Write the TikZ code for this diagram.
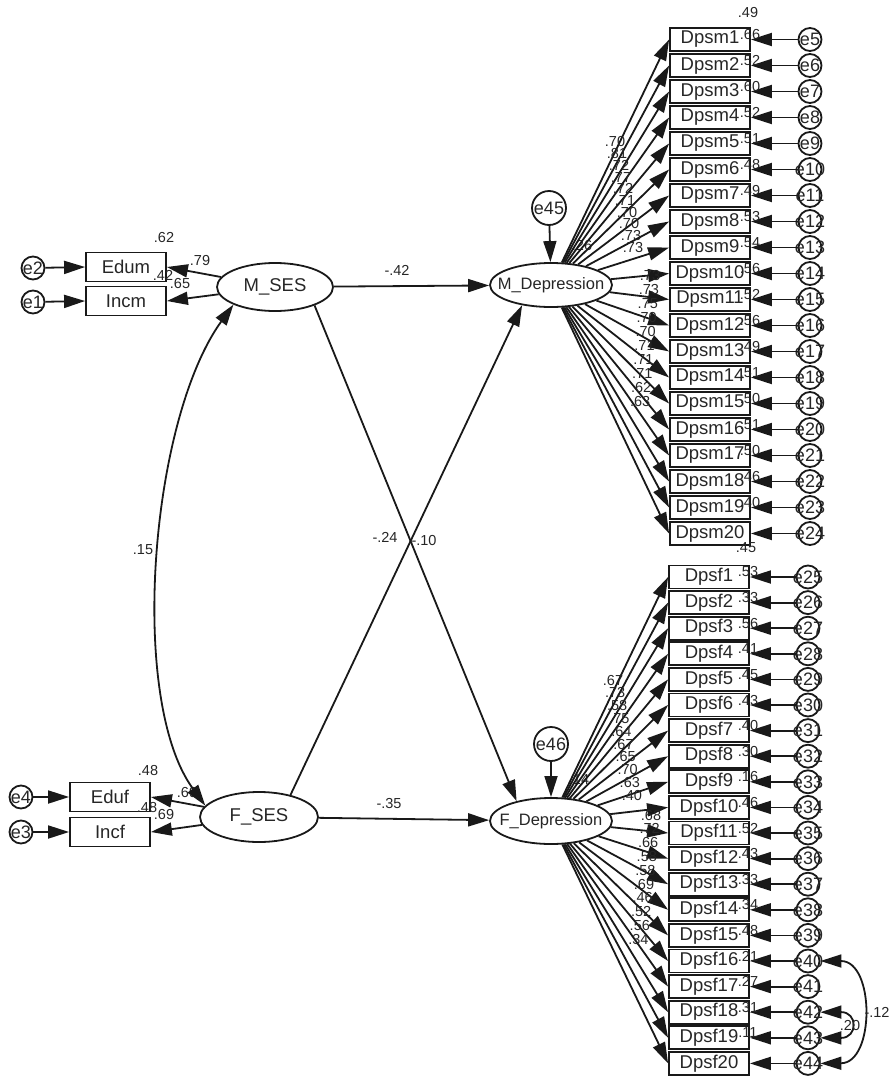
\documentclass[tikz,border=0pt]{standalone}
\usepackage{fontspec}
\setmainfont{Liberation Sans}
\usetikzlibrary{arrows.meta,shapes.geometric}
\newcommand\fsz[1]{\fontsize{#1}{#1}\selectfont}
\begin{document}
\begin{tikzpicture}[x=1pt,y=-1pt,
  line width=1.8pt, draw=black!90,
  arr/.style={-{Triangle[length=21pt,width=13pt]}},
  arr2/.style={{Triangle[length=21pt,width=13pt]}-{Triangle[length=21pt,width=13pt]}},
  obs/.style={draw, rectangle, minimum width=80pt, minimum height=23pt, inner sep=0pt, text=black!85, font=\fsz{18.5}},
  sbox/.style={draw, rectangle, minimum width=80pt, minimum height=29pt, inner sep=0pt, text=black!85, font=\fsz{18.5}},
  lat/.style={draw, ellipse, inner sep=0pt},
  err/.style={draw, circle, inner sep=0pt, minimum size=23pt},
  etext/.style={inner sep=0pt, text=black!85, font=\fsz{18}},
  ltext/.style={inner sep=0pt, text=black!85},
  coef/.style={inner sep=0pt, text=black!85, font=\fsz{14.5}},
]
\useasboundingbox (0,0) rectangle (894,1079);

% ---- latent variables ----
\node[lat, minimum width=116pt, minimum height=48pt] (MSES) at (275,287) {};
\node[ltext, font=\fsz{18.5}] at (MSES) {M\_SES};
\node[lat, minimum width=118pt, minimum height=50pt] (FSES) at (259,817) {};
\node[ltext, font=\fsz{18.5}] at (FSES) {F\_SES};
\node[lat, minimum width=122pt, minimum height=44pt] (MDep) at (551,285) {};
\node[ltext, font=\fsz{16.5}] at (MDep) {M\_Depression};
\node[lat, minimum width=122pt, minimum height=46pt] (FDep) at (551,821) {};
\node[ltext, font=\fsz{16.5}] at (FDep) {F\_Depression};

% ---- disturbances of the depression factors ----
\node[err, minimum size=34pt] (e45) at (549,208) {};
\node[ltext, font=\fsz{18}] at (e45) {e45};
\node[err, minimum size=34pt] (e46) at (551,744) {};
\node[ltext, font=\fsz{18}] at (e46) {e46};
\draw[arr] (e45) -- (MDep);
\draw[arr] (e46) -- (FDep);
\node[coef] (r2md) at (582,246) {.26};
\node[coef] (r2fd) at (579,780) {.14};

% ---- SES indicators ----
\node[sbox] (Edum) at (126,267) {Edum};
\node[sbox] (Incm) at (126,301) {Incm};
\node[err] (e2) at (33,268) {};
\node[etext] at (e2) {e2};
\node[err] (e1) at (33,302) {};
\node[etext] at (e1) {e1};
\draw[arr] (e2) -- (Edum.west);
\draw[arr] (e1) -- (Incm.west);
\draw[arr] (MSES) -- (Edum.east);
\draw[arr] (MSES) -- (Incm.east);
\node[coef] (c62) at (164,238) {.62};
\node[coef] (c79) at (200,261) {.79};
\node[coef] (c42) at (163,275) {.42};
\node[coef] (c65) at (180,284) {.65};

\node[sbox] (Eduf) at (110,797) {Eduf};
\node[sbox] (Incf) at (110,832) {Incf};
\node[err] (e4) at (21,797) {};
\node[etext] at (e4) {e4};
\node[err] (e3) at (21,832) {};
\node[etext] at (e3) {e3};
\draw[arr] (e4) -- (Eduf.west);
\draw[arr] (e3) -- (Incf.west);
\draw[arr] (FSES) -- (Eduf.east);
\draw[arr] (FSES) -- (Incf.east);
\node[coef] (c48a) at (148,770) {.48};
\node[coef] (c69a) at (187,792) {.69};
\node[coef] (c48b) at (147,807) {.48};
\node[coef] (c69b) at (164,814) {.69};

% ---- structural paths ----
\draw[arr] (MSES) -- (MDep);
\draw[arr] (FSES) -- (FDep);
\draw[arr] (MSES.335) -- (FDep.150);
\draw[arr] (FSES.35) -- (MDep.215);
\node[coef] (p1) at (397,270) {-.42};
\node[coef] (p2) at (389,803) {-.35};
\node[coef] (p3) at (385,537) {-.24};
\node[coef] (p4) at (424,541) {-.10};
\draw[arr2] (MSES.203) .. controls (150,420) and (128,700) .. (FSES.168);
\node[coef] (cov) at (143,550) {.15};

% ---- mother depression items ----
\node[coef] at (748,13) {.49};
\foreach \k/\l/\r in {1/.70/.66,2/.81/.52,3/.72/.60,4/.77/.52,5/.72/.51,
  6/.71/.48,7/.70/.49,8/.70/.53,9/.73/.54,10/.73/.56,11/.73/.52,12/.73/.56,
  13/.75/.49,14/.70/.51,15/.70/.50,16/.71/.51,17/.71/.50,18/.71/.46,
  19/.62/.40,20/.63/{}} {
  \pgfmathsetmacro\yy{39.5+26*(\k-1)}
  \pgfmathtruncatemacro\n{\k+4}
  \pgfmathsetmacro\lx{\k<11 ? 615+2*(\k-1) : 650-1.1*(\k-11)}
  \pgfmathsetmacro\ly{\k<11 ? 142+11.7*(\k-1) : 276+14*(\k-11)}
  \node[obs] (m\k) at (710,\yy) {Dpsm\k};
  \node[err] (e\n) at (810,\yy) {};
  \node[etext] at (e\n) {e\n};
  \draw[arr] (e\n) -- (m\k.east);
  \draw[arr] (MDep) -- (m\k.west);
  \node[coef] (lm\k) at (\lx,\ly) {\l};
  \node[coef] (rm\k) at (750,\yy-5) {\r};
}

% ---- father depression items ----
\node[coef] at (746,548) {.45};
\foreach \k/\l/\r in {1/.67/.53,2/.73/.33,3/.58/.56,4/.75/.41,5/.64/.45,
  6/.67/.43,7/.65/.40,8/.70/.30,9/.63/.16,10/.40/.46,11/.68/.52,12/.72/.43,
  13/.66/.33,14/.58/.34,15/.58/.48,16/.69/.21,17/.46/.27,18/.52/.31,
  19/.56/.11,20/.34/{}} {
  \pgfmathsetmacro\yy{577+25.6*(\k-1)}
  \pgfmathtruncatemacro\n{\k+24}
  \pgfmathsetmacro\lx{\k<11 ? 613+2.1*(\k-1) : 651-1.4*(\k-11)}
  \pgfmathsetmacro\ly{\k<11 ? 680+12.8*(\k-1) : 815+13.8*(\k-11)}
  \node[obs] (f\k) at (709,\yy) {Dpsf\k};
  \node[err] (e\n) at (808,\yy) {};
  \node[etext] at (e\n) {e\n};
  \draw[arr] (e\n) -- (f\k.east);
  \draw[arr] (FDep) -- (f\k.west);
  \node[coef] (lf\k) at (\lx,\ly) {\l};
  \node[coef] (rf\k) at (748,\yy-5) {\r};
}

% ---- correlated residuals ----
\draw[arr2] (e40.east) .. controls (875,961) and (875,1063) .. (e44.east);
\draw[arr2] (e42.east) .. controls (858,1012) and (858,1038) .. (e43.east);
\node[coef] (c12) at (877,1012) {-.12};
\node[coef] (c20) at (850,1025) {.20};
\end{tikzpicture}
\end{document}
